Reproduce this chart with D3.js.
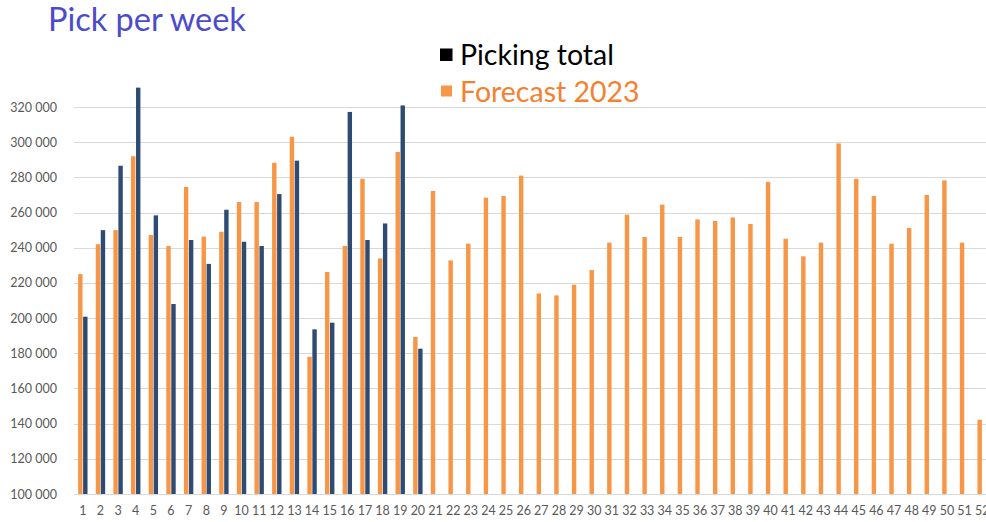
<!DOCTYPE html>
<html>
<head>
<meta charset="utf-8">
<script src="https://cdn.jsdelivr.net/npm/d3@7.9.0/dist/d3.min.js"></script>
<style>
  body { margin: 0; background: #fff; overflow: hidden; }
  svg { display: block; font-family: Lato, "Open Sans", sans-serif; }
</style>
</head>
<body>
<svg id="chart" width="986" height="522"></svg>
<script>
// Weeks 1..52
const weeks = d3.range(1, 53).map(String);

// Forecast 2023 (orange), one per week
const forecast = [
  225000, 242000, 250000, 292000, 247200, 241000, 274500, 246300, 249100, 266000,
  266000, 288300, 303100, 178000, 226200, 241000, 279200, 233900, 294400, 189300,
  272300, 232800, 242300, 268400, 269400, 281000, 214000, 212900, 219000, 227300,
  242900, 258800, 246100, 264500, 246100, 256100, 255200, 257200, 253500, 277400,
  245100, 235100, 242900, 299300, 279200, 269400, 242300, 251200, 270000, 278300,
  242900, 142200
];

// Picking total (navy), only weeks 1..20 so far
const picking = [
  200800, 250000, 286600, 331000, 258400, 208000, 244400, 230800, 261600, 243400,
  241000, 270500, 289500, 193600, 197400, 317200, 244400, 253800, 320900, 182600
];

const yTicks = d3.range(100000, 320001, 20000);

const orange = "#F79646";
const navy = "#2E4C73";

const svg = d3.select("#chart");
const margin = { left: 74, right: 991, top: 107, bottom: 494 };

const x = d3.scaleBand().domain(weeks).range([margin.left, margin.right]);
const y = d3.scaleLinear().domain([100000, 320000]).range([margin.bottom, margin.top]);

const barW = 4.4;

// gridlines
svg.append("g")
  .selectAll("line")
  .data(yTicks)
  .join("line")
  .attr("x1", margin.left)
  .attr("x2", 986)
  .attr("y1", d => Math.round(y(d)) + 0.5)
  .attr("y2", d => Math.round(y(d)) + 0.5)
  .attr("stroke", "#d9d9d9")
  .attr("stroke-width", 1);

// y axis labels
const fmt = d => d3.format(",")(d).replace(/,/g, " ");
svg.append("g")
  .attr("transform", `translate(57,0)`)
  .call(d3.axisLeft(y).tickValues(yTicks).tickFormat(fmt).tickSize(0).tickPadding(0))
  .call(g => g.select(".domain").remove())
  .call(g => g.selectAll("text")
    .attr("fill", "#595959")
    .style("font-family", "Lato, 'Open Sans', sans-serif")
    .style("font-size", "12.5px"));

// x axis labels
svg.append("g")
  .attr("transform", `translate(0,${margin.bottom})`)
  .call(d3.axisBottom(x).tickSize(0).tickPadding(12))
  .call(g => g.select(".domain").remove())
  .call(g => g.selectAll("text")
    .attr("fill", "#595959")
    .style("font-family", "Lato, 'Open Sans', sans-serif")
    .style("font-size", "12.5px"));

// forecast bars (left half of each band)
svg.append("g")
  .selectAll("rect")
  .data(forecast)
  .join("rect")
  .attr("x", (d, i) => x(weeks[i]) + x.bandwidth() / 2 - barW - 0.3)
  .attr("y", d => y(d))
  .attr("width", barW)
  .attr("height", d => y(100000) - y(d))
  .attr("fill", orange);

// picking bars (right half)
svg.append("g")
  .selectAll("rect")
  .data(picking)
  .join("rect")
  .attr("x", (d, i) => x(weeks[i]) + x.bandwidth() / 2 + 0.3)
  .attr("y", d => y(d))
  .attr("width", barW)
  .attr("height", d => y(100000) - y(d))
  .attr("fill", navy);

// title
svg.append("text")
  .attr("x", 48)
  .attr("y", 31)
  .attr("fill", "#4B4BCB")
  .style("font-size", "32.5px")
  .text("Pick per week");

// legend
const legend = [
  { label: "Picking total", color: "#000000", text: "#000000", y: 65, sq: 12.5 },
  { label: "Forecast 2023", color: orange, text: "#F5812F", y: 102, sq: 11 }
];
const lg = svg.append("g").selectAll("g").data(legend).join("g");
lg.append("rect")
  .attr("x", d => d.sq > 12 ? 440 : 441)
  .attr("y", d => d.y - 16.5)
  .attr("width", d => d.sq)
  .attr("height", d => d.sq)
  .attr("fill", d => d.color);
lg.append("text")
  .attr("x", 460)
  .attr("y", d => d.y)
  .attr("fill", d => d.text)
  .style("font-size", "28.5px")
  .text(d => d.label);
</script>
</body>
</html>
